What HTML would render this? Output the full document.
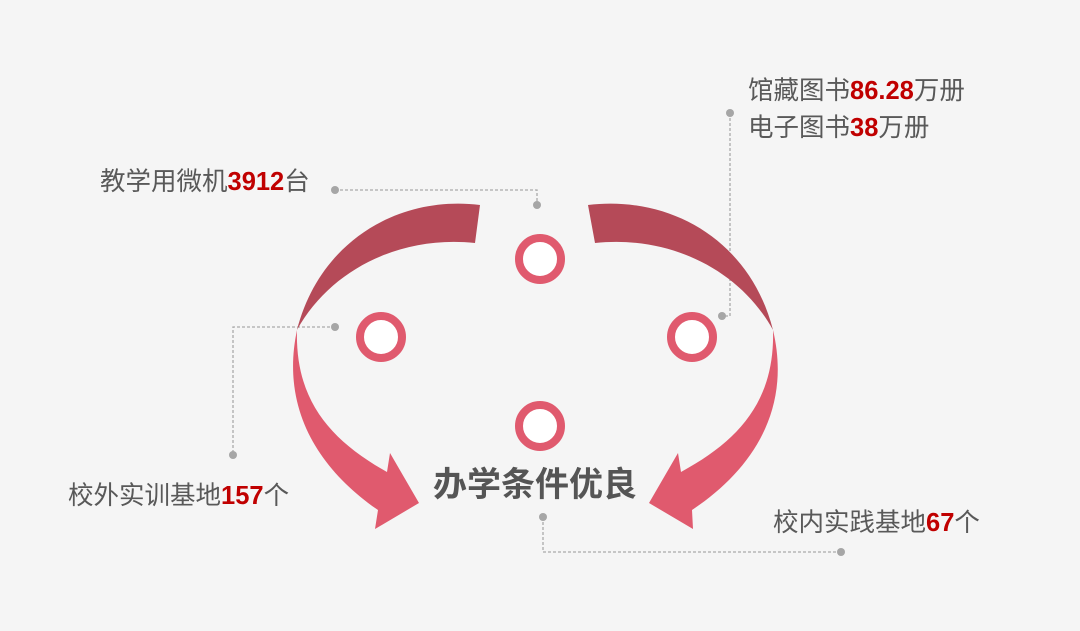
<!DOCTYPE html>
<html><head><meta charset="utf-8"><style>
html,body{margin:0;padding:0;background:#f5f5f5;}
.t{position:absolute;font-family:"Liberation Sans","Noto Sans CJK SC",sans-serif;font-size:25.5px;color:#595959;white-space:nowrap;line-height:1;}
.t b{color:#c00000;}
</style></head><body>
<div style="position:relative;width:1080px;height:631px;overflow:hidden;background:#f5f5f5;">
<svg width="1080" height="631" style="position:absolute;left:0;top:0">
<g stroke="#aaa" stroke-width="1.3" stroke-dasharray="3,2" fill="none">
<polyline points="335,190 537,190 537,205"/>
<polyline points="335,327 233,327 233,455"/>
<polyline points="730,113 730,316 722,316"/>
<polyline points="543,517 543,552 841,552"/>
</g>
<g fill="#a6a6a6">
<circle cx="335" cy="190" r="4"/><circle cx="537" cy="205" r="4"/>
<circle cx="335" cy="327" r="4"/><circle cx="233" cy="455" r="4"/>
<circle cx="730" cy="113" r="4"/><circle cx="722" cy="316" r="4"/>
<circle cx="543" cy="517" r="4"/><circle cx="841" cy="552" r="4"/>
</g>
<path d="M480,205 C400,195 320,240 297,330 C330,270 400,235 475,243 Z" fill="#b54a58"/>
<path d="M297,330 C280,410 320,470 378,510 L375,529 L419,503 L390,453 L387,472 C330,440 295,400 297,330 Z" fill="#e05a6e"/>
<path d="M588,205 C670,195 750,240 773,330 C740,270 670,235 595,243 Z" fill="#b54a58"/>
<path d="M773,330 C792,410 752,470 692,510 L693,529 L649,503 L678,453 L681,472 C740,440 775,400 773,330 Z" fill="#e05a6e"/>
<g fill="#fff" stroke="#e05a6e" stroke-width="8">
<circle cx="540" cy="259" r="21"/>
<circle cx="381" cy="337" r="21"/>
<circle cx="692" cy="337" r="21"/>
<circle cx="540" cy="426" r="21"/>
</g>
</svg>
<div class="t" style="left:433px;top:468px;font-size:34px;font-weight:bold;color:#555;">办学条件优良</div>
<div class="t" style="left:100px;top:170px;">教学用微机<b>3912</b>台</div>
<div class="t" style="left:748px;top:79px;">馆藏图书<b>86.28</b>万册</div>
<div class="t" style="left:748px;top:116px;">电子图书<b>38</b>万册</div>
<div class="t" style="left:68px;top:484px;">校外实训基地<b>157</b>个</div>
<div class="t" style="left:773px;top:511px;">校内实践基地<b>67</b>个</div>
</div>
</body></html>
